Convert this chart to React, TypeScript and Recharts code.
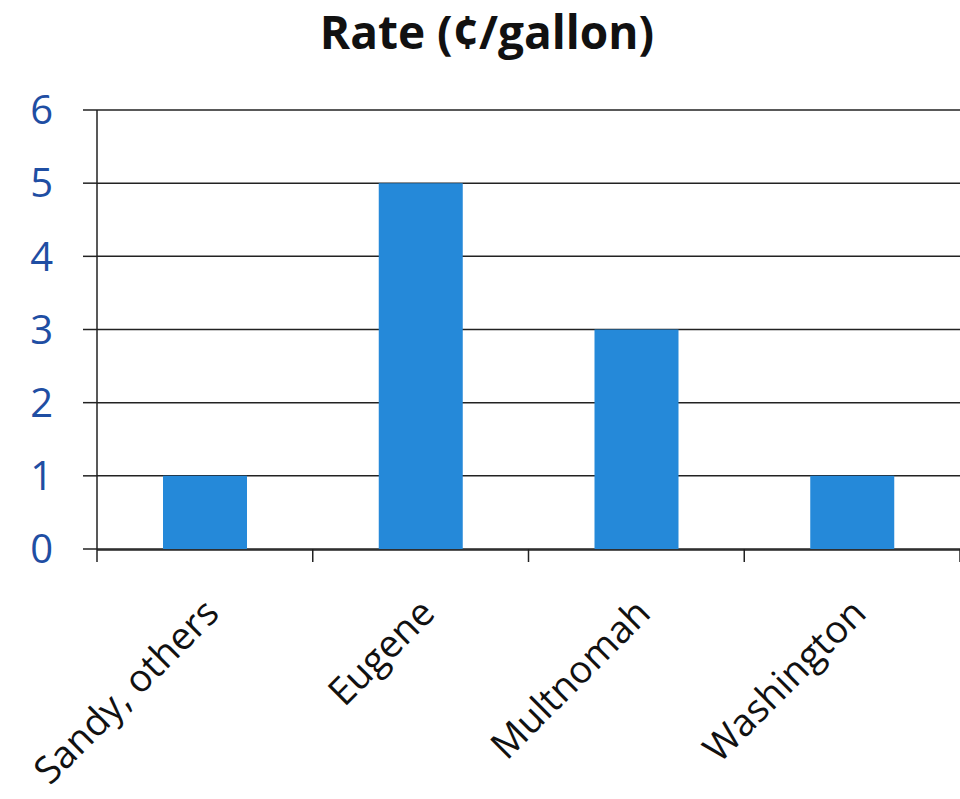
import { BarChart, Bar, XAxis, YAxis, CartesianGrid } from "recharts"

const CATEGORIES = ["Sandy, others", "Eugene", "Multnomah", "Washington"]
const RATES = [1, 5, 3, 1]
const Y_TICKS = [0, 1, 2, 3, 4, 5, 6]
const BOUNDARY_TICKS = [0, 1, 2, 3, 4]

const data = CATEGORIES.map((name, i) => ({ name, rate: RATES[i], edge: i }))

const FONT = "'Open Sans', 'Noto Sans', sans-serif"

// eslint-disable-next-line @typescript-eslint/no-explicit-any
function CategoryTick(props: any) {
  const { x, y, payload } = props
  const px = x + 9
  const py = y + 50
  return (
    <text
      x={px}
      y={py}
      textAnchor="end"
      dominantBaseline="middle"
      transform={`rotate(-45 ${px} ${py})`}
      fontFamily={FONT}
      fontSize={38}
      fill="#111"
    >
      {payload.value}
    </text>
  )
}

export default function App() {
  return (
    <div style={{ position: "absolute", left: 0, top: 0, width: 960, height: 799, background: "#fff" }}>
      <div
        style={{
          position: "absolute",
          left: 0,
          width: 974,
          top: 0,
          textAlign: "center",
          fontFamily: FONT,
          fontWeight: 700,
          fontSize: 46,
          lineHeight: "62px",
          color: "#111",
        }}
      >
        Rate (¢/gallon)
      </div>
      <BarChart
        width={960}
        height={799}
        data={data}
        margin={{ top: 110, right: 0, bottom: 0, left: 0 }}
        barSize={84}
      >
        <CartesianGrid vertical={false} stroke="#222" strokeWidth={1.5} />
        <YAxis
          domain={[0, 6]}
          ticks={Y_TICKS}
          width={97}
          tickSize={14}
          tickMargin={30}
          axisLine={{ stroke: "#222", strokeWidth: 1.5 }}
          tickLine={{ stroke: "#222", strokeWidth: 1.5 }}
          tick={{ fill: "#1f4ea3", fontSize: 40, fontFamily: FONT }}
        />
        <XAxis
          xAxisId="a-edge"
          dataKey="edge"
          type="number"
          domain={[0, 4]}
          allowDataOverflow
          ticks={BOUNDARY_TICKS}
          interval={0}
          height={1}
          tickFormatter={() => ""}
          tickSize={13}
          axisLine={false}
          tickLine={{ stroke: "#222", strokeWidth: 1.5 }}
        />
        <XAxis
          xAxisId="b-cat"
          dataKey="name"
          height={249}
          tickLine={false}
          axisLine={{ stroke: "#222", strokeWidth: 1.5 }}
          tick={<CategoryTick />}
          interval={0}
        />
        <Bar xAxisId="b-cat" dataKey="rate" fill="#2589d9" isAnimationActive={false} />
      </BarChart>
    </div>
  )
}
